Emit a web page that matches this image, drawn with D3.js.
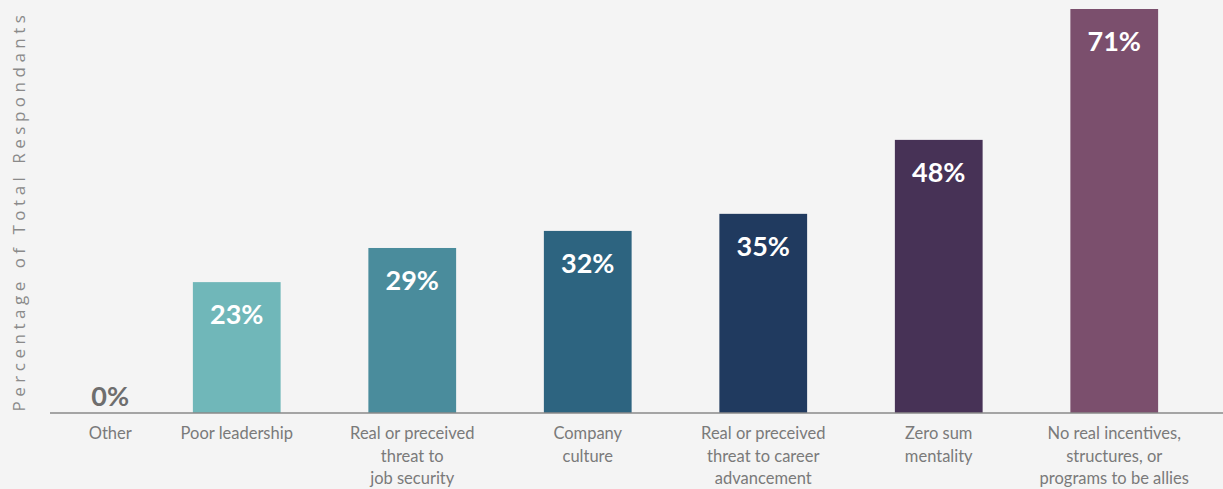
<!DOCTYPE html>
<html>
<head>
<meta charset="utf-8">
<script src="https://cdn.jsdelivr.net/npm/d3@7"></script>
<style>
  html, body { margin: 0; padding: 0; background: #f4f4f4; }
  svg { display: block; }
</style>
</head>
<body>
<svg id="chart" width="1223" height="489"></svg>
<script>
// Reasons respondents gave, share of total respondents (%)
const categories = [
  "Other",
  "Poor leadership",
  "Real or preceived threat to job security",
  "Company culture",
  "Real or preceived threat to career advancement",
  "Zero sum mentality",
  "No real incentives, structures, or programs to be allies"
];
const categoryLines = [
  ["Other"],
  ["Poor leadership"],
  ["Real or preceived", "threat to", "job security"],
  ["Company", "culture"],
  ["Real or preceived", "threat to career", "advancement"],
  ["Zero sum", "mentality"],
  ["No real incentives,", "structures, or", "programs to be allies"]
];
const values = [0, 23, 29, 32, 35, 48, 71];
const barColors = ["#8c8c8c", "#70b7b9", "#4a8c9c", "#2d6480", "#203a5f", "#473256", "#7b4f6d"];
const yTitle = "Percentage of Total Respondants";

const svg = d3.select("#chart");
const W = 1223, H = 489;
const axisLeft = 50, baseY = 413, topY = 9;

// Bars sit on an even band grid; the empty first category is drawn closer in.
const x = d3.scaleBand()
  .domain(categories.slice(1))
  .range([149, 1202])
  .paddingInner(0.5)
  .paddingOuter(0.25);
const firstCenter = x(categories[1]) + x.bandwidth() / 2 - 126.5;
const cx = c => c === categories[0] ? firstCenter : x(c) + x.bandwidth() / 2;

const y = d3.scaleLinear().domain([0, 71]).range([baseY, topY]);

const data = categories.map((c, i) => ({ c, v: values[i], color: barColors[i], lines: categoryLines[i] }));

// bars
svg.append("g").selectAll("rect")
  .data(data.filter(d => d.v > 0))
  .join("rect")
  .attr("x", d => x(d.c))
  .attr("y", d => y(d.v))
  .attr("width", x.bandwidth())
  .attr("height", d => y(0) - y(d.v))
  .attr("fill", d => d.color);

// baseline
svg.append("line")
  .attr("x1", axisLeft).attr("x2", W)
  .attr("y1", baseY).attr("y2", baseY)
  .attr("stroke", "#8a8a8a").attr("stroke-width", 1.5);

// value labels
svg.append("g").selectAll("text")
  .data(data)
  .join("text")
  .attr("x", d => cx(d.c))
  .attr("y", d => d.v > 0 ? y(d.v) + 42 : baseY - 7)
  .attr("text-anchor", "middle")
  .attr("font-family", "Lato, sans-serif")
  .attr("font-weight", 700)
  .attr("font-size", 27)
  .attr("fill", d => d.v > 0 ? "#ffffff" : "#6e6e6e")
  .text(d => d3.format(".0f")(d.v) + "%");

// category labels
const lab = svg.append("g").selectAll("text")
  .data(data)
  .join("text")
  .attr("x", d => cx(d.c))
  .attr("y", baseY + 26)
  .attr("text-anchor", "middle")
  .attr("font-family", "Lato, sans-serif")
  .attr("font-size", 16.5)
  .attr("fill", "#7a7a7a");
lab.selectAll("tspan")
  .data(d => d.lines)
  .join("tspan")
  .attr("x", function () { return d3.select(this.parentNode).attr("x"); })
  .attr("dy", (d, i) => i === 0 ? 0 : 22.5)
  .text(d => d);

// y-axis title
svg.append("text")
  .attr("transform", `translate(25,${(baseY + 9) / 2}) rotate(-90)`)
  .attr("text-anchor", "middle")
  .attr("font-family", "'Open Sans', sans-serif")
  .attr("font-size", 17)
  .attr("letter-spacing", 4.5)
  .attr("fill", "#8a8a8a")
  .text(yTitle);
</script>
</body>
</html>
